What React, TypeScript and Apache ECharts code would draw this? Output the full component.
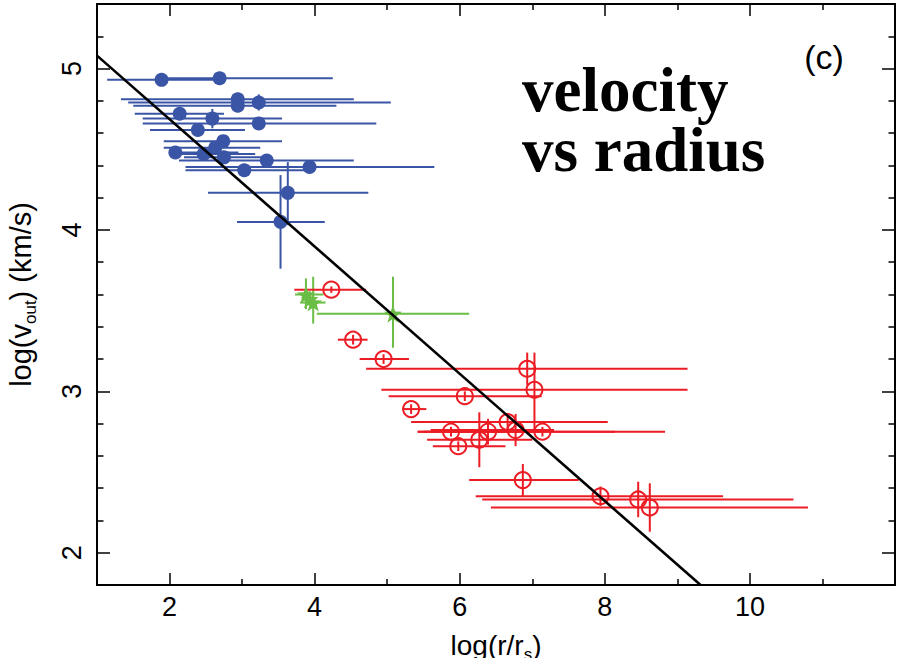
import React, { useEffect, useRef } from "react";
import * as echarts from "echarts";

// ---- axis ticks ----
const xMajor = [2, 4, 6, 8, 10];
const xMinor = [3, 5, 7, 9, 11];
const yMajor = [2, 3, 4, 5];
const yMinor = [2.2, 2.4, 2.6, 2.8, 3.2, 3.4, 3.6, 3.8, 4.2, 4.4, 4.6, 4.8, 5.2];

// ---- blue (filled circles) ----
const blueX = [1.89, 2.69, 2.94, 2.94, 3.23, 2.14, 2.59, 3.23, 2.39, 2.74, 2.63, 2.08, 2.47, 2.75, 3.03, 3.34, 3.93, 3.63, 3.53];
const blueY = [4.93, 4.94, 4.81, 4.77, 4.79, 4.72, 4.69, 4.66, 4.62, 4.55, 4.51, 4.48, 4.47, 4.45, 4.37, 4.43, 4.39, 4.23, 4.05];
const blueXLo = [1.14, 1.9, 1.33, 1.5, 1.43, 1.52, 1.63, 1.63, 1.73, 1.92, 1.92, 2.0, 2.13, 2.2, 2.22, 2.13, 2.22, 2.53, 2.93];
const blueXHi = [2.7, 4.25, 4.54, 4.3, 5.05, 2.75, 3.55, 4.85, 3.04, 3.55, 3.25, 2.95, 3.18, 3.3, 3.9, 4.54, 5.65, 4.74, 4.14];
const blueYLo = [4.93, 4.94, 4.77, 4.73, 4.74, 4.72, 4.63, 4.66, 4.62, 4.55, 4.48, 4.48, 4.47, 4.45, 4.37, 4.43, 4.39, 4.03, 3.76];
const blueYHi = [4.93, 4.94, 4.85, 4.81, 4.84, 4.72, 4.75, 4.66, 4.62, 4.55, 4.54, 4.48, 4.47, 4.45, 4.37, 4.43, 4.39, 4.42, 4.34];

// ---- green (stars) ----
const greenX = [3.88, 3.98, 3.93, 5.08];
const greenY = [3.6, 3.55, 3.57, 3.48];
const greenXLo = [3.73, 3.8, 3.85, 4.03];
const greenXHi = [4.12, 4.15, 4.0, 6.13];
const greenYLo = [3.51, 3.42, 3.53, 3.27];
const greenYHi = [3.7, 3.71, 3.62, 3.71];

// ---- red (open circles) ----
const redX = [4.23, 4.53, 4.95, 6.93, 7.03, 6.07, 5.33, 6.66, 5.88, 7.14, 6.39, 6.77, 6.27, 5.98, 6.87, 7.94, 8.46, 8.62];
const redY = [3.63, 3.32, 3.2, 3.14, 3.01, 2.97, 2.89, 2.81, 2.75, 2.75, 2.75, 2.76, 2.7, 2.66, 2.45, 2.35, 2.33, 2.28];
const redXLo = [3.72, 4.32, 4.62, 4.71, 4.92, 5.02, 5.21, 5.33, 5.42, 5.42, 5.5, 5.6, 5.55, 5.63, 6.13, 6.22, 6.31, 6.43];
const redXHi = [4.71, 4.73, 5.3, 9.14, 9.14, 7.13, 5.54, 8.04, 8.14, 8.83, 7.1, 7.3, 7.0, 6.63, 7.64, 9.63, 10.6, 10.8];
const redYLo = [3.61, 3.29, 3.17, 3.04, 2.76, 2.94, 2.86, 2.76, 2.72, 2.72, 2.67, 2.66, 2.53, 2.63, 2.35, 2.29, 2.22, 2.13];
const redYHi = [3.65, 3.35, 3.23, 3.24, 3.24, 3.0, 2.92, 2.86, 2.78, 2.78, 2.83, 2.86, 2.87, 2.69, 2.55, 2.41, 2.44, 2.43];

// ---- fit line ----
const fitX = [1, 9.32];
const fitY = [5.08, 1.8];

const BLUE = "#3a55a5";
const RED = "#ec1c24";
const GREEN = "#6abd45";
const STAR =
  "path://M0,-10 L2.35,-3.24 L9.51,-3.09 L3.8,1.24 L5.88,8.09 L0,4 L-5.88,8.09 L-3.8,1.24 L-9.51,-3.09 L-2.35,-3.24 Z";

const rows = (x: number[], y: number[], xlo: number[], xhi: number[], ylo: number[], yhi: number[]) =>
  x.map((v, i) => [v, y[i], xlo[i], xhi[i], ylo[i], yhi[i]]);

const errSeries = (data: number[][], color: string, width: number) => ({
  type: "custom",
  xAxisIndex: 0,
  yAxisIndex: 0,
  data,
  renderItem: (_p: any, api: any) => {
    const x = api.value(0), y = api.value(1);
    const a = api.coord([api.value(2), y]);
    const b = api.coord([api.value(3), y]);
    const c = api.coord([x, api.value(4)]);
    const d = api.coord([x, api.value(5)]);
    const st = { stroke: color, lineWidth: width };
    return {
      type: "group",
      children: [
        { type: "line", shape: { x1: a[0], y1: a[1], x2: b[0], y2: b[1] }, style: st },
        { type: "line", shape: { x1: c[0], y1: c[1], x2: d[0], y2: d[1] }, style: st },
      ],
    };
  },
});

const FONT = "Liberation Sans";
const nameRich = {
  sub: { fontSize: 17, fontFamily: FONT, color: "#000", lineHeight: 20, verticalAlign: "bottom" },
};

const makeX = (pos: string, ticks: number[], len: number, main: boolean, showLine: boolean) => ({
  type: "value",
  min: 1,
  max: 12,
  position: pos,
  axisLine: { show: showLine, onZero: false, lineStyle: { color: "#000", width: 2 } },
  axisTick: { show: true, inside: true, length: len, customValues: ticks, lineStyle: { color: "#000", width: 1.5 } },
  axisLabel: main
    ? { show: true, customValues: ticks, color: "#000", fontSize: 27, fontFamily: FONT, margin: 8 }
    : { show: false },
  splitLine: { show: false },
  ...(main
    ? {
        name: "log(r/r{sub|s})",
        nameLocation: "middle",
        nameGap: 42,
        nameTextStyle: { fontSize: 28, fontFamily: FONT, color: "#000", lineHeight: 36, rich: nameRich },
      }
    : {}),
});

const makeY = (pos: string, ticks: number[], len: number, main: boolean, showLine: boolean) => ({
  type: "value",
  min: 1.8,
  max: 5.4,
  position: pos,
  axisLine: { show: showLine, onZero: false, lineStyle: { color: "#000", width: 2 } },
  axisTick: { show: true, inside: true, length: len, customValues: ticks, lineStyle: { color: "#000", width: 1.5 } },
  axisLabel: main
    ? { show: true, customValues: ticks, color: "#000", fontSize: 27, fontFamily: FONT, margin: 12, rotate: 90 }
    : { show: false },
  splitLine: { show: false },
  ...(main
    ? {
        name: "log(v{sub|out}) (km/s)",
        nameLocation: "middle",
        nameGap: 58,
        nameRotate: 90,
        nameTextStyle: { fontSize: 29, fontFamily: FONT, color: "#000", lineHeight: 36, rich: nameRich },
      }
    : {}),
});

export default function App() {
  const ref = useRef<HTMLDivElement>(null);
  useEffect(() => {
    if (!ref.current) return;
    const chart = echarts.init(ref.current, null, { renderer: "svg" });
    const option: any = {
      animation: false,
      backgroundColor: "#fff",
      grid: { left: 97, right: 2, top: 4, bottom: 73, containLabel: false, outerBoundsMode: "none" },
      xAxis: [
        makeX("bottom", xMajor, 12, true, true),
        makeX("bottom", xMinor, 6, false, false),
        makeX("top", xMajor, 12, false, true),
        makeX("top", xMinor, 6, false, false),
      ],
      yAxis: [
        makeY("left", yMajor, 13, true, true),
        makeY("left", yMinor, 6.5, false, false),
        makeY("right", yMajor, 13, false, true),
        makeY("right", yMinor, 6.5, false, false),
      ],
      graphic: [
        {
          type: "text",
          x: 522,
          y: 60,
          style: {
            text: "velocity\nvs radius",
            font: 'bold 63px "Liberation Serif"',
            fill: "#000",
            lineHeight: 60,
            textVerticalAlign: "top",
            verticalAlign: "top",
          },
        },
        {
          type: "text",
          x: 824,
          y: 57,
          style: {
            text: "(c)",
            font: '34px "Liberation Sans"',
            fill: "#000",
            textAlign: "center",
            align: "center",
            textVerticalAlign: "middle",
            verticalAlign: "middle",
          },
        },
      ],
      series: [
        errSeries(rows(blueX, blueY, blueXLo, blueXHi, blueYLo, blueYHi), BLUE, 2),
        {
          type: "scatter",
          data: blueX.map((v, i) => [v, blueY[i]]),
          symbol: "circle",
          symbolSize: 14,
          itemStyle: { color: BLUE, opacity: 1 },
        },
        errSeries(rows(greenX, greenY, greenXLo, greenXHi, greenYLo, greenYHi), GREEN, 2),
        {
          type: "scatter",
          data: greenX.map((v, i) => [v, greenY[i]]),
          symbol: STAR,
          symbolSize: 18,
          itemStyle: { color: GREEN, opacity: 1 },
        },
        errSeries(rows(redX, redY, redXLo, redXHi, redYLo, redYHi), RED, 2),
        {
          type: "scatter",
          data: redX.map((v, i) => [v, redY[i]]),
          symbol: "circle",
          symbolSize: 16,
          itemStyle: { color: "rgba(0,0,0,0)", borderColor: RED, borderWidth: 2, opacity: 1 },
        },
        {
          type: "line",
          data: fitX.map((v, i) => [v, fitY[i]]),
          symbol: "none",
          lineStyle: { color: "#000", width: 2.6 },
          z: 5,
        },
      ],
    };
    chart.setOption(option);
    return () => chart.dispose();
  }, []);
  return <div ref={ref} style={{ position: "absolute", left: 0, top: 0, width: 897, height: 658 }} />;
}
